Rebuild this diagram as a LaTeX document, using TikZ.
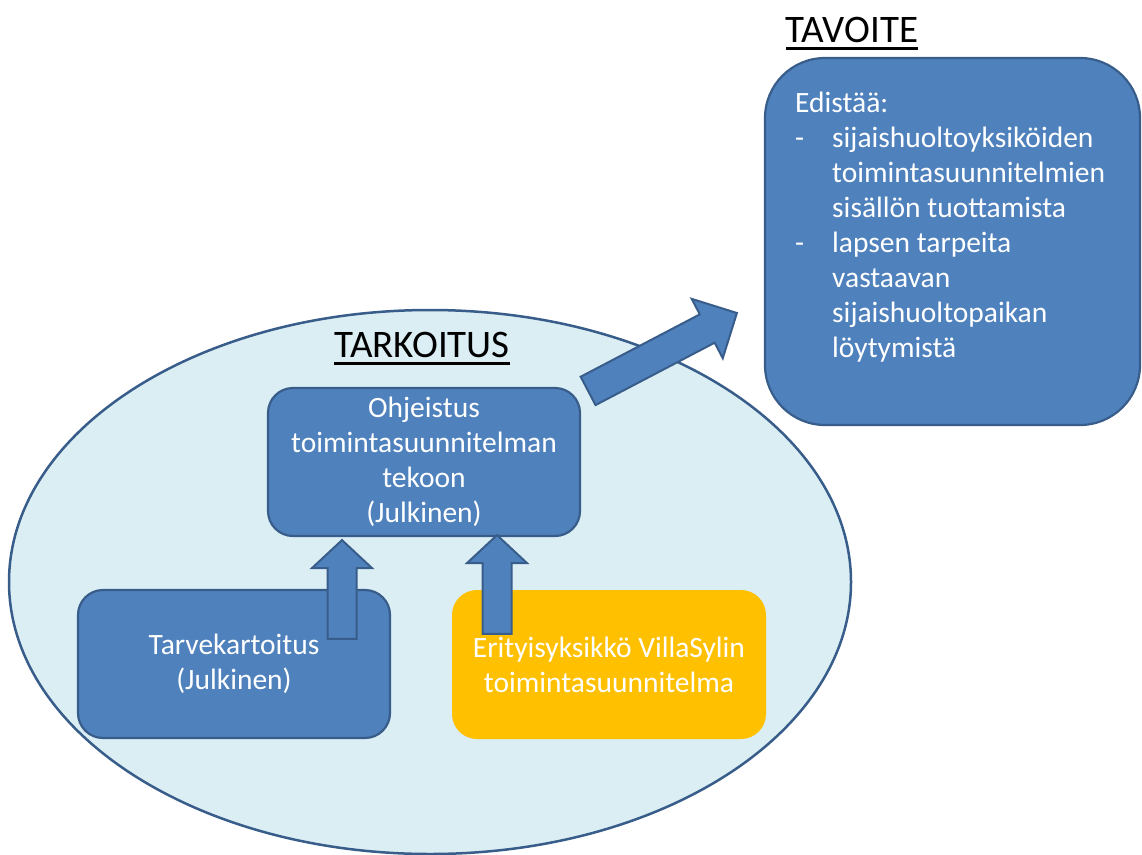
\documentclass[tikz,border=0pt]{standalone}
\usepackage{fontspec}
\setmainfont{Carlito}
\usetikzlibrary{calc,shapes.geometric}
\definecolor{boxblue}{HTML}{4F81BD}
\definecolor{boxline}{HTML}{385D8A}
\definecolor{purposefill}{HTML}{DBEEF4}
\definecolor{specyellow}{HTML}{FFC000}
\newcommand{\diagfont}{\fontsize{29.5}{35}\selectfont}
\newcommand{\diagtitlefont}{\fontsize{39}{46}\selectfont}
\newsavebox{\titlebox}
\newcommand{\titleul}[1]{\sbox{\titlebox}{#1}\rlap{\rule[-7.5pt]{\wd\titlebox}{2.6pt}}\usebox{\titlebox}}

% block arrow: tail, tip, half shaft, half head, head length
\newcommand{\blockarrow}[5]{%
  \coordinate (#1-h) at ($(#2)!#5!(#1)$);
  \draw[arrowbody] ($(#1)!#3!90:(#2)$) -- ($(#1-h)!#3!90:(#2)$) -- ($(#1-h)!#4!90:(#2)$) -- (#2)
    -- ($(#1-h)!#4!-90:(#2)$) -- ($(#1-h)!#3!-90:(#2)$) -- ($(#1)!#3!-90:(#2)$) -- cycle;
}

\tikzset{
  bluebox/.style={rectangle, rounded corners=25pt, draw=boxline, line width=2.2pt,
    fill=boxblue, text=white, align=center, inner sep=0pt,
    minimum width=312pt, minimum height=148pt, font=\diagfont},
  specbox/.style={bluebox, draw=none, fill=specyellow, minimum width=314pt, minimum height=149pt},
  goalbox/.style={rectangle, rounded corners=60pt, draw=boxline, line width=2.2pt,
    fill=boxblue, minimum width=375pt, minimum height=367pt, inner sep=0pt},
  goaltext/.style={text=white, align=left, inner sep=0pt, font=\diagfont},
  titletext/.style={text=black, inner sep=0pt, font=\diagtitlefont},
  arrowbody/.style={draw=boxline, line width=2pt, fill=boxblue, line join=miter},
}

\begin{document}
\begin{tikzpicture}[x=1pt, y=-1pt]
\useasboundingbox (0,0) rectangle (1142,854);

% Purpose area
\node[ellipse, draw=boxline, line width=2.5pt, fill=purposefill, inner sep=0pt,
  minimum width=842pt, minimum height=544pt] (purpose) at (430,582) {};
\node[titletext, anchor=base] (purposetitle) at (422,357) {\titleul{TARKOITUS}};

% Goal
\node[goalbox] (goal) at (952.5,241.5) {};
\node[titletext, anchor=base] (goaltitle) at (852,42) {\titleul{TAVOITE}};
\node[goaltext, anchor=north west] (goaltxt) at (795,92) {%
  Edistää:\\
  \makebox[37pt][l]{-}sijaishuoltoyksiköiden\\
  \hspace*{37pt}toimintasuunnitelmien\\
  \hspace*{37pt}sisällön tuottamista\\
  \makebox[37pt][l]{-}lapsen tarpeita\\
  \hspace*{37pt}vastaavan\\
  \hspace*{37pt}sijaishuoltopaikan\\
  \hspace*{37pt}löytymistä};

% Inner boxes
\node[bluebox] (ohj) at (424,462) {Ohjeistus\\toimintasuunnitelman\\tekoon\\(Julkinen)};
\node[bluebox] (tarve) at (234,664) {Tarvekartoitus\\(Julkinen)};
\node[specbox] (spec) at (609,664.5) {Erityisyksikkö VillaSylin\\toimintasuunnitelma};

% Arrows
\coordinate (tarvetail) at ([xshift=108pt, yshift=-50pt]tarve.north);
\coordinate (tarvetip) at ([xshift=-82pt, yshift=-3pt]ohj.south);
\coordinate (spectail) at ([xshift=-112pt, yshift=-45pt]spec.north);
\coordinate (spectip) at ([xshift=73pt, yshift=2pt]ohj.south);
\coordinate (goaltail) at ([xshift=7pt, yshift=-4pt]ohj.north east);
\coordinate (goaltip) at ([xshift=-27pt, yshift=-71.5pt]goal.west);

\blockarrow{tarvetail}{tarvetip}{14.5pt}{30pt}{28pt}
\blockarrow{spectail}{spectip}{14.5pt}{30pt}{28pt}
\blockarrow{goaltail}{goaltip}{16pt}{33.5pt}{33.5pt}

\end{tikzpicture}
\end{document}
